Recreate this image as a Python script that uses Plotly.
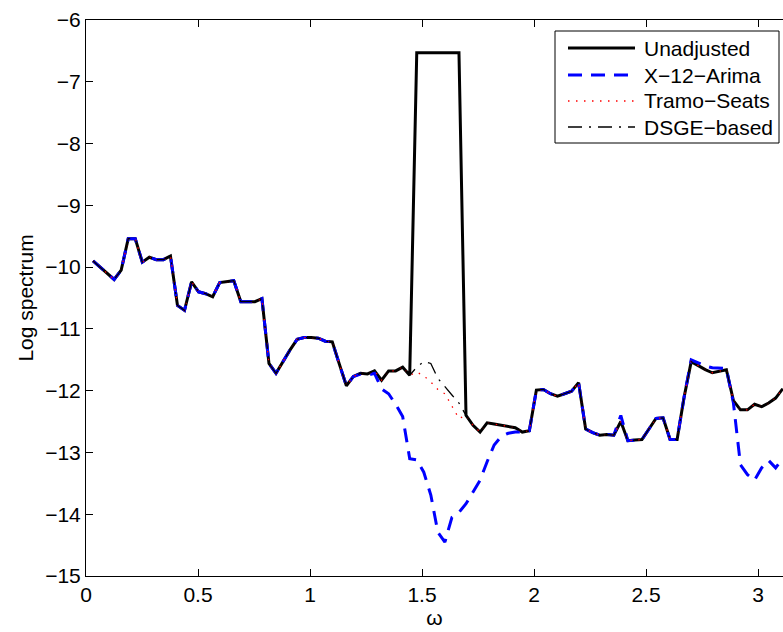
import numpy as np
import plotly.graph_objects as go

# Fourier frequencies omega_j = pi * j / 100, j = 1..99
omega = np.pi * np.arange(1, 100) / 100

unadjusted = [
    -9.90, -10.00, -10.10, -10.20, -10.05, -9.54, -9.54, -9.92, -9.84, -9.88,
    -9.88, -9.82, -10.62, -10.70, -10.24, -10.40, -10.43, -10.48, -10.25, -10.23,
    -10.22, -10.56, -10.56, -10.56, -10.51, -11.56, -11.72, -11.52, -11.34, -11.17,
    -11.14, -11.14, -11.15, -11.20, -11.21, -11.57, -11.92, -11.77, -11.72, -11.73,
    -11.68, -11.83, -11.68, -11.68, -11.62, -11.75, -6.53, -6.53, -6.53, -6.53,
    -6.53, -6.53, -6.53, -12.40, -12.56, -12.67, -12.52, -12.54, -12.56, -12.58,
    -12.60, -12.67, -12.65, -11.99, -11.98, -12.05, -12.09, -12.05, -12.01, -11.87,
    -12.62, -12.68, -12.72, -12.71, -12.72, -12.50, -12.81, -12.80, -12.79, -12.62,
    -12.45, -12.44, -12.79, -12.79, -12.10, -11.53, -11.60, -11.66, -11.71, -11.68,
    -11.66, -12.16, -12.31, -12.31, -12.22, -12.26, -12.20, -12.12, -11.97,
]

x12_arima = [
    -9.90, -10.00, -10.10, -10.20, -10.05, -9.54, -9.54, -9.92, -9.84, -9.88,
    -9.88, -9.82, -10.62, -10.70, -10.24, -10.40, -10.43, -10.48, -10.25, -10.23,
    -10.22, -10.56, -10.56, -10.56, -10.51, -11.56, -11.72, -11.52, -11.34, -11.17,
    -11.14, -11.14, -11.15, -11.20, -11.21, -11.57, -11.92, -11.77, -11.73, -11.75,
    -11.72, -11.97, -12.05, -12.22, -12.42, -13.10, -13.12, -13.32, -13.69, -14.29,
    -14.45, -14.05, -13.97, -13.83, -13.63, -13.45, -13.15, -12.88, -12.74, -12.69,
    -12.67, -12.67, -12.65, -11.99, -11.98, -12.05, -12.09, -12.05, -12.01, -11.87,
    -12.62, -12.68, -12.72, -12.71, -12.72, -12.40, -12.81, -12.80, -12.79, -12.62,
    -12.45, -12.44, -12.79, -12.79, -12.10, -11.50, -11.55, -11.60, -11.63, -11.64,
    -11.64, -12.20, -13.20, -13.36, -13.45, -13.25, -13.13, -13.25, -13.10,
]

tramo_seats = [
    -9.90, -10.00, -10.10, -10.20, -10.05, -9.54, -9.54, -9.92, -9.84, -9.88,
    -9.88, -9.82, -10.62, -10.70, -10.24, -10.40, -10.43, -10.48, -10.25, -10.23,
    -10.22, -10.56, -10.56, -10.56, -10.51, -11.56, -11.72, -11.52, -11.34, -11.17,
    -11.14, -11.14, -11.15, -11.20, -11.21, -11.57, -11.92, -11.77, -11.72, -11.73,
    -11.68, -11.83, -11.68, -11.68, -11.62, -11.75, -11.70, -11.76, -11.86, -11.98,
    -12.05, -12.25, -12.45, -12.40, -12.56, -12.67, -12.52, -12.54, -12.56, -12.58,
    -12.60, -12.67, -12.65, -11.99, -11.98, -12.05, -12.09, -12.05, -12.01, -11.87,
    -12.62, -12.68, -12.72, -12.71, -12.72, -12.50, -12.81, -12.80, -12.79, -12.62,
    -12.45, -12.44, -12.79, -12.79, -12.10, -11.53, -11.60, -11.66, -11.71, -11.68,
    -11.66, -12.16, -12.31, -12.31, -12.22, -12.26, -12.20, -12.12, -11.97,
]

dsge_based = [
    -9.90, -10.00, -10.10, -10.20, -10.05, -9.54, -9.54, -9.92, -9.84, -9.88,
    -9.88, -9.82, -10.62, -10.70, -10.24, -10.40, -10.43, -10.48, -10.25, -10.23,
    -10.22, -10.56, -10.56, -10.56, -10.51, -11.56, -11.72, -11.52, -11.34, -11.17,
    -11.14, -11.14, -11.15, -11.20, -11.21, -11.57, -11.92, -11.77, -11.72, -11.73,
    -11.68, -11.83, -11.68, -11.68, -11.62, -11.75, -11.62, -11.53, -11.56, -11.80,
    -11.94, -12.07, -12.20, -12.40, -12.56, -12.67, -12.52, -12.54, -12.56, -12.58,
    -12.60, -12.67, -12.65, -11.99, -11.98, -12.05, -12.09, -12.05, -12.01, -11.87,
    -12.62, -12.68, -12.72, -12.71, -12.72, -12.50, -12.81, -12.80, -12.79, -12.62,
    -12.45, -12.44, -12.79, -12.79, -12.10, -11.53, -11.60, -11.66, -11.71, -11.68,
    -11.66, -12.16, -12.31, -12.31, -12.22, -12.26, -12.20, -12.12, -11.97,
]

series_names = ["Unadjusted", "X\u221212\u2212Arima", "Tramo\u2212Seats", "DSGE\u2212based"]
x_ticks = [0, 0.5, 1, 1.5, 2, 2.5, 3]
y_ticks = [-15, -14, -13, -12, -11, -10, -9, -8, -7, -6]

FONT = "Liberation Sans, Arial, Helvetica, sans-serif"
W, H = 783, 632
ML, MR, MT, MB = 86, 0, 20, 56
PW, PH = W - ML - MR, H - MT - MB
PX_PER_UNIT = 224.0

styles = [
    dict(color="black", width=3, dash="solid"),
    dict(color="#0000ff", width=3, dash="14px,9px"),
    dict(color="#ff0000", width=1.3, dash="1.5px,6.5px"),
    dict(color="black", width=1.3, dash="14px,7px,2px,7px"),
]

fig = go.Figure()
for name, vals, st in zip(series_names, [unadjusted, x12_arima, tramo_seats, dsge_based], styles):
    fig.add_trace(go.Scatter(x=omega, y=vals, mode="lines", name=name,
                             line=st, showlegend=False))

# legend box drawn in paper coordinates
def px_x(px):
    return (px - ML) / PW

def px_y(py):
    return (H - MB - py) / PH

shapes = [dict(type="rect", xref="paper", yref="paper",
               x0=px_x(555), x1=px_x(779), y0=px_y(143), y1=px_y(31),
               line=dict(color="black", width=1), fillcolor="white", layer="above")]
annotations = []
row_y = [48, 75, 101, 127]
for name, st, ry in zip(series_names, styles, row_y):
    shapes.append(dict(type="line", xref="paper", yref="paper",
                       x0=px_x(568), x1=px_x(635), y0=px_y(ry), y1=px_y(ry),
                       line=st, layer="above"))
    annotations.append(dict(xref="paper", yref="paper", x=px_x(642), y=px_y(ry),
                            text=name, showarrow=False, xanchor="left", yanchor="middle",
                            font=dict(family=FONT, size=21, color="black")))

fig.update_layout(
    width=W, height=H,
    margin=dict(l=ML, r=MR, t=MT, b=MB, pad=0),
    paper_bgcolor="white", plot_bgcolor="white",
    font=dict(family=FONT, size=21, color="black"),
    shapes=shapes, annotations=annotations,
    xaxis=dict(range=[0, PW / PX_PER_UNIT], tickvals=x_ticks,
               ticktext=[f"{t:g}" for t in x_ticks],
               ticks="inside", ticklen=7, tickwidth=1, tickcolor="black",
               showline=True, linecolor="black", linewidth=1, mirror="allticks",
               showgrid=False, zeroline=False,
               title=dict(text="\u03c9", standoff=2, font=dict(family=FONT, size=21))),
    yaxis=dict(range=[-15, -6], tickvals=y_ticks,
               ticks="inside", ticklen=7, tickwidth=1, tickcolor="black",
               showline=True, linecolor="black", linewidth=1, mirror=False,
               showgrid=False, zeroline=False,
               title=dict(text="Log spectrum", standoff=5, font=dict(family=FONT, size=21))),
)

fig.write_html("out.html")
